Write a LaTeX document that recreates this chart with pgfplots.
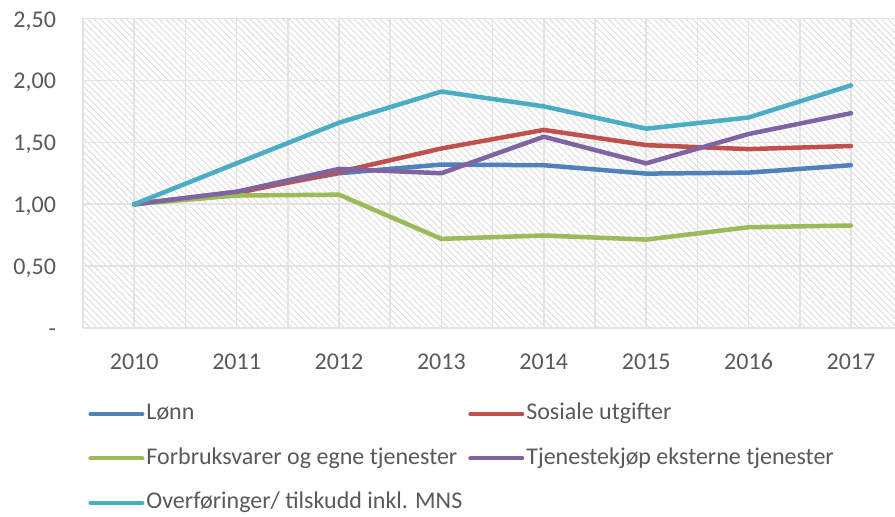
\documentclass[border=0pt]{standalone}
\usepackage{fontspec}
\setmainfont{Carlito}
\usepackage{pgfplots}
\pgfplotsset{compat=1.18}
\usetikzlibrary{patterns.meta}
\definecolor{cBlue}{HTML}{4F81BD}
\definecolor{cRed}{HTML}{C0504D}
\definecolor{cGreen}{HTML}{9BBB59}
\definecolor{cPurple}{HTML}{8064A2}
\definecolor{cCyan}{HTML}{4BACC6}
\definecolor{cText}{HTML}{595959}
\definecolor{cGrid}{HTML}{E3E3E3}
\definecolor{cHatch}{HTML}{DCDCDC}
\begin{document}
\begin{tikzpicture}
\useasboundingbox (-41.5pt,-94.5pt) rectangle (406pt,164pt);
\begin{axis}[
  at={(0pt,0pt)}, anchor=south west,
  scale only axis,
  width=406pt, height=154.75pt,
  xmin=-0.5, xmax=7.43,
  ymin=0, ymax=2.5,
  xtick={0,1,2,3,4,5,6,7},
  xticklabels={2010,2011,2012,2013,2014,2015,2016,2017},
  minor xtick={-0.5,0.5,1.5,2.5,3.5,4.5,5.5,6.5,7.5},
  ytick={0,0.5,1,1.5,2,2.5},
  yticklabels={{-\hspace{10pt}},{0,50},{1,00},{1,50},{2,00},{2,50}},
  xmajorgrids, xminorgrids, ymajorgrids,
  major grid style={draw=cGrid, line width=0.75pt},
  minor grid style={draw=cGrid, line width=0.75pt},
  tick style={draw=none},
  axis line style={draw=none},
  axis background/.style={pattern={Lines[angle=-45,distance=2.3pt,line width=0.45pt]}, pattern color=cHatch},
  tick label style={font=\fontsize{12}{14}\selectfont, text=cText, text height=8.6pt, text depth=0pt},
  yticklabel style={xshift=-10pt},
  xticklabel style={yshift=-8.5pt},
  legend columns=2,
  legend cell align=left,
  legend style={draw=none, fill=none, inner sep=0pt,
    at={(axis description cs:0.0062,-0.241)}, anchor=north west,
    font=\fontsize{12}{14}\selectfont, text=cText,
    nodes={inner sep=0pt, text height=8.5pt, text depth=2.5pt},
    row sep=11.25pt,
    /tikz/every odd column/.append style={column sep=1pt},
    /tikz/every even column/.append style={column sep=3pt}},
  legend image code/.code={\draw[#1, line width=2pt, line cap=round] (0pt,0pt) -- (26pt,0pt);},
  every axis plot/.append style={line width=2.25pt, line cap=round, line join=round, mark=none},
]
\draw[cGrid, line width=0.75pt] (rel axis cs:1,1) -- (rel axis cs:0,1) -- (rel axis cs:0,0) -- (rel axis cs:1,0);
\addplot[cBlue] coordinates {(0,1.00) (1,1.10) (2,1.25) (3,1.32) (4,1.315) (5,1.247) (6,1.255) (7,1.315)};
\addlegendentry{Lønn}
\addplot[cRed] coordinates {(0,1.00) (1,1.09) (2,1.26) (3,1.45) (4,1.60) (5,1.477) (6,1.445) (7,1.47)};
\addlegendentry{Sosiale utgifter}
\addplot[cGreen] coordinates {(0,1.00) (1,1.07) (2,1.077) (3,0.72) (4,0.747) (5,0.714) (6,0.814) (7,0.828)};
\addlegendentry{Forbruksvarer og egne tjenester}
\addplot[cPurple] coordinates {(0,1.00) (1,1.10) (2,1.285) (3,1.25) (4,1.545) (5,1.33) (6,1.567) (7,1.735)};
\addlegendentry{Tjenestekjøp eksterne tjenester}
\addplot[cCyan] coordinates {(0,1.00) (1,1.33) (2,1.658) (3,1.91) (4,1.79) (5,1.61) (6,1.70) (7,1.96)};
\addlegendentry{Overføringer/ tilskudd inkl. MNS}
\end{axis}
\end{tikzpicture}
\end{document}
